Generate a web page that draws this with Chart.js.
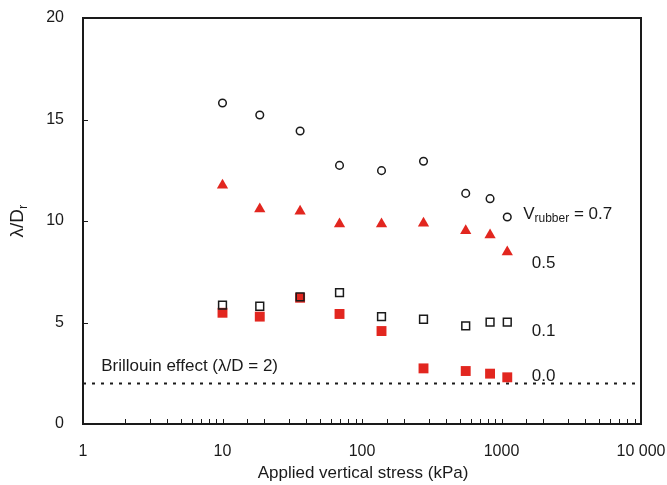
<!DOCTYPE html>
<html lang="en">
<head>
<meta charset="utf-8">
<title>Lambda/D vs applied vertical stress</title>
<script src="https://cdn.jsdelivr.net/npm/chart.js"></script>
<style>
  html, body { margin: 0; padding: 0; background: #fff; }
  #wrap { width: 667px; height: 485px; }
</style>
</head>
<body>
<div id="wrap"><canvas id="myChart" width="667" height="485"></canvas></div>
<script>
// applied vertical stress (kPa)
var stress = [10, 18.5, 36, 69, 138, 276, 554, 828, 1100];
// lambda/D_r for each rubber fraction
var v07 = [15.81, 15.22, 14.43, 12.74, 12.48, 12.94, 11.36, 11.10, 10.20];
var v05 = [11.76, 10.59, 10.48, 9.85, 9.85, 9.89, 9.52, 9.31, 8.47];
var v01 = [5.86, 5.80, 6.26, 6.47, 5.29, 5.16, 4.83, 5.02, 5.02];
var v00 = [5.48, 5.29, 6.22, 5.42, 4.58, 2.74, 2.61, 2.48, 2.30];
var brillouin = 2;
var xTickLabels = {1: '1', 10: '10', 100: '100', 1000: '1000', 10000: '10 000'};
var yTicks = [0, 5, 10, 15, 20];

var red = '#e2261f';
var ink = '#1a1a1a';
var fontFam = "'Liberation Sans', Arial, Helvetica, sans-serif";

function pts(ys) {
    return stress.map(function (x, i) { return {x: x, y: ys[i]}; });
}

// box, inside tick marks, axis titles and series labels
var decor = {
    id: 'decor',
    afterDraw: function (chart) {
        var ctx = chart.ctx, a = chart.chartArea;
        var xs = chart.scales.x, ys = chart.scales.y;
        ctx.save();
        ctx.strokeStyle = ink;
        ctx.lineWidth = 1;
        // x ticks (pointing up, inside)
        xs.ticks.forEach(function (t) {
            var px = Math.round(xs.getPixelForValue(t.value)) + 0.5;
            ctx.beginPath();
            ctx.moveTo(px, a.bottom);
            ctx.lineTo(px, a.bottom - 5);
            ctx.stroke();
        });
        // y ticks (pointing right, inside)
        yTicks.forEach(function (v) {
            var py = Math.round(ys.getPixelForValue(v)) + 0.5;
            ctx.beginPath();
            ctx.moveTo(a.left, py);
            ctx.lineTo(a.left + 5, py);
            ctx.stroke();
        });
        ctx.lineWidth = 2;
        ctx.strokeRect(a.left, a.top, a.right - a.left, a.bottom - a.top);

        ctx.fillStyle = ink;
        ctx.textBaseline = 'middle';
        ctx.textAlign = 'left';
        ctx.font = '17px ' + fontFam;

        // series labels
        var lx = xs.getPixelForValue(1650);
        var vx = xs.getPixelForValue(1430);
        var vy = ys.getPixelForValue(10.35);
        ctx.fillText('V', vx, vy);
        var w = ctx.measureText('V').width;
        ctx.font = '12px ' + fontFam;
        ctx.fillText('rubber', vx + w, vy + 5);
        var w2 = ctx.measureText('rubber').width;
        ctx.font = '17px ' + fontFam;
        ctx.fillText(' = 0.7', vx + w + w2, vy);
        ctx.fillText('0.5', lx, ys.getPixelForValue(7.93));
        ctx.fillText('0.1', lx, ys.getPixelForValue(4.58));
        ctx.fillText('0.0', lx, ys.getPixelForValue(2.36));
        ctx.fillText('Brillouin effect (\u03bb/D = 2)', xs.getPixelForValue(1.35), ys.getPixelForValue(2.86));

        // x title
        ctx.textAlign = 'center';
        ctx.fillText('Applied vertical stress (kPa)', (a.left + a.right) / 2 + 1, 473);

        // y title, rotated, with subscript r
        ctx.translate(18, 221);
        ctx.rotate(-Math.PI / 2);
        ctx.textAlign = 'left';
        ctx.font = '19px ' + fontFam;
        var s1 = '\u03bb/D';
        var tw = ctx.measureText(s1).width;
        ctx.font = '13px ' + fontFam;
        var sw = ctx.measureText('r').width;
        ctx.font = '19px ' + fontFam;
        var x0 = -(tw + sw) / 2;
        ctx.fillText(s1, x0, 0);
        ctx.font = '13px ' + fontFam;
        ctx.fillText('r', x0 + tw, 5);
        ctx.restore();
    }
};

var ctx = document.getElementById('myChart').getContext('2d');
var myChart = new Chart(ctx, {
    type: 'scatter',
    data: {
        datasets: [
            {
                label: 'V = 0.7',
                data: pts(v07),
                pointStyle: 'circle',
                pointRadius: 3.8,
                borderColor: ink,
                backgroundColor: 'rgba(0,0,0,0)',
                borderWidth: 1.5
            },
            {
                label: 'V = 0.5',
                data: pts(v05),
                pointStyle: 'triangle',
                pointRadius: 6.5,
                borderColor: red,
                backgroundColor: red,
                borderWidth: 0
            },
            {
                label: 'V = 0.1',
                data: pts(v01),
                pointStyle: 'rect',
                pointRadius: 5.5,
                borderColor: ink,
                backgroundColor: 'rgba(0,0,0,0)',
                borderWidth: 1.5
            },
            {
                label: 'V = 0.0',
                data: pts(v00),
                pointStyle: 'rect',
                pointRadius: 7,
                borderColor: red,
                backgroundColor: red,
                borderWidth: 0
            },
            {
                label: 'Brillouin',
                data: [{x: 1, y: brillouin}, {x: 10000, y: brillouin}],
                showLine: true,
                pointRadius: 0,
                borderColor: ink,
                borderWidth: 2,
                borderDash: [3, 6]
            }
        ]
    },
    options: {
        responsive: false,
        animation: false,
        layout: { padding: { top: 18, right: 26, left: 0, bottom: 0 } },
        plugins: { legend: { display: false }, tooltip: { enabled: false } },
        scales: {
            x: {
                type: 'logarithmic',
                min: 1,
                max: 10000,
                grid: { display: false, drawTicks: false },
                border: { display: false },
                afterFit: function (s) {
                    s.height = 61;
                    s.paddingLeft = 0;
                    s.paddingRight = 0;
                },
                ticks: {
                    autoSkip: false,
                    maxRotation: 0,
                    padding: 18,
                    color: ink,
                    font: { family: fontFam, size: 16 },
                    callback: function (v) { return xTickLabels[v] || ''; }
                }
            },
            y: {
                min: 0,
                max: 20,
                grid: { display: false, drawTicks: false },
                border: { display: false },
                afterFit: function (s) {
                    s.width = 83;
                    s.paddingTop = 0;
                    s.paddingBottom = 0;
                },
                afterBuildTicks: function (s) {
                    s.ticks = yTicks.map(function (v) { return {value: v}; });
                },
                ticks: {
                    padding: 19,
                    color: ink,
                    font: { family: fontFam, size: 16 }
                }
            }
        }
    },
    plugins: [decor]
});
</script>
</body>
</html>
